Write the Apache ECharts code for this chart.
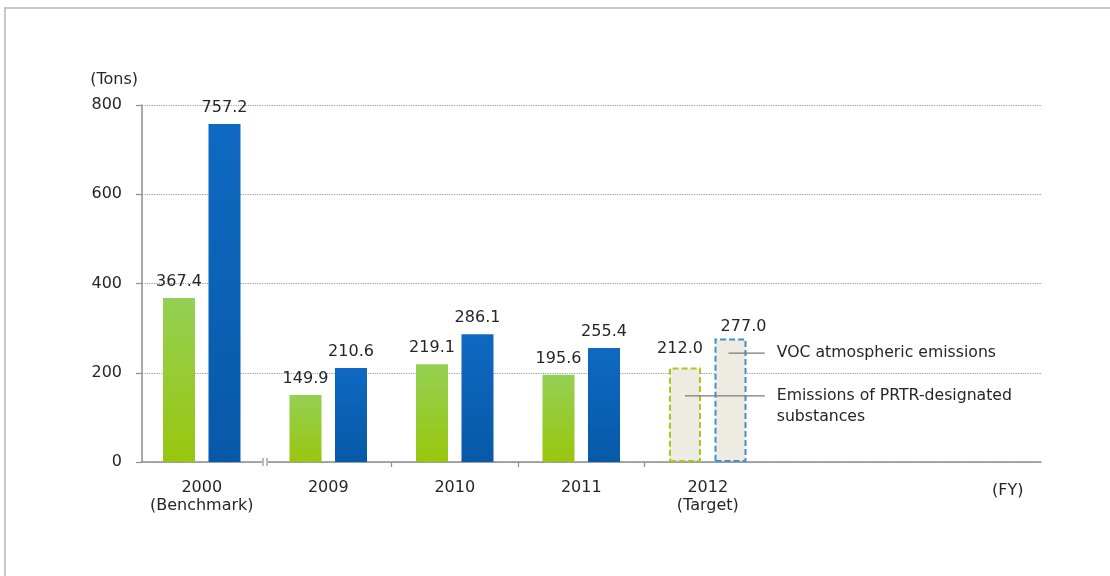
<!DOCTYPE html>
<html><head><meta charset="utf-8">
<script src="https://cdn.jsdelivr.net/npm/echarts@6/dist/echarts.min.js"></script>
<style>html,body{margin:0;padding:0;background:#fff}#c{width:1110px;height:576px}</style>
</head><body><div id="c"></div>
<script>
// ---- data ----
const categories = ['2000\n(Benchmark)', '2009', '2010', '2011', '2012\n(Target)', '', ''];
const prtrValues = [367.4, 149.9, 219.1, 195.6, 212.0];
const vocValues = [757.2, 210.6, 286.1, 255.4, 277.0];
const yTicks = [0, 200, 400, 600, 800];
const seriesNames = ['Emissions of PRTR-designated substances', 'VOC atmospheric emissions'];
const targetIndex = 4;

// ---- style ----
const FONT = 'DejaVu Sans';
const TXT = '#262626';
const AXIS = '#8e8e8e';
const BAR_W = 32, BAR_GAP_PX = 13.5, BAND = 126.5;
const boundaries = categories.concat(['']).map((_, i) => 'b' + i); // band edges for ticks

const chart = echarts.init(document.getElementById('c'), null, {renderer: 'canvas'});

function build(values, dashColor, targetOffset) {
  return values.map((v, i) => i === targetIndex ? {
    value: v,
    itemStyle: {color: '#eeece2', borderColor: dashColor, borderType: [6, 3], borderWidth: 2},
    label: {offset: targetOffset}
  } : v);
}

const greenGrad = new echarts.graphic.LinearGradient(0, 0, 0, 1, [
  {offset: 0, color: '#94d053'}, {offset: 1, color: '#99c60e'}]);
const blueGrad = new echarts.graphic.LinearGradient(0, 0, 0, 1, [
  {offset: 0, color: '#0f69c2'}, {offset: 1, color: '#0759a8'}]);

const labelCommon = {
  show: true, position: 'top', distance: 8,
  fontFamily: FONT, fontSize: 16, color: TXT,
  formatter: p => p.value.toFixed(1)
};

chart.setOption({
  animation: false,
  backgroundColor: '#fff',
  grid: [
    {left: 142, right: 69, top: 105, bottom: 114},
    {left: 138.5, width: categories.length * BAND, top: 105, bottom: 114}
  ],
  xAxis: [
    {type: 'value', gridIndex: 0, min: 0, max: 1, position: 'bottom',
     axisLine: {show: true, lineStyle: {color: AXIS, width: 1.5}},
     axisTick: {show: false}, axisLabel: {show: false}, splitLine: {show: false}},
    {type: 'category', gridIndex: 1, data: categories, position: 'bottom',
     axisLine: {show: false}, axisTick: {show: false},
     axisLabel: {interval: 0, margin: 17, fontFamily: FONT, fontSize: 16, color: TXT, lineHeight: 18}},
    {type: 'category', gridIndex: 1, data: boundaries, boundaryGap: false, position: 'bottom', offset: 0,
     axisLine: {show: false}, axisLabel: {show: false},
     axisTick: {show: true, length: 5, lineStyle: {color: AXIS, width: 1.2},
       interval: (idx) => idx >= 2 && idx <= 4}}
  ],
  yAxis: [
    {type: 'value', gridIndex: 0, min: yTicks[0], max: yTicks[yTicks.length - 1],
     interval: yTicks[1] - yTicks[0],
     name: '(Tons)', nameLocation: 'end', nameGap: 17,
     nameTextStyle: {fontFamily: FONT, fontSize: 16, color: TXT, align: 'right', padding: [0, 4, 0, 0]},
     axisLine: {show: true, lineStyle: {color: AXIS, width: 1.5}},
     axisTick: {show: true, length: 6, lineStyle: {color: AXIS, width: 1.2}},
     axisLabel: {margin: 20, fontFamily: FONT, fontSize: 16, color: TXT},
     splitLine: {show: true, lineStyle: {color: '#9a9a9a', type: [1.2, 1.2], width: 1}}},
    {type: 'value', gridIndex: 1, min: yTicks[0], max: yTicks[yTicks.length - 1],
     interval: yTicks[1] - yTicks[0], show: false, splitLine: {show: false}}
  ],
  title: {text: '(FY)', left: 987, top: 478,
    textStyle: {fontFamily: FONT, fontSize: 16, fontWeight: 'normal', color: TXT}},
  series: [
    {name: seriesNames[0], type: 'bar', xAxisIndex: 1, yAxisIndex: 1,
     barWidth: BAR_W, barGap: (BAR_GAP_PX / BAR_W * 100) + '%',
     itemStyle: {color: greenGrad},
     label: labelCommon,
     data: build(prtrValues, '#a9c81c', [-5, -3])},
    {name: seriesNames[1], type: 'bar', xAxisIndex: 1, yAxisIndex: 1,
     barWidth: BAR_W, barGap: (BAR_GAP_PX / BAR_W * 100) + '%',
     itemStyle: {color: blueGrad},
     label: labelCommon,
     data: build(vocValues, '#3d8fd2', [13, 4])}
  ]
});

// ---- annotations placed through the library's scales ----
const half = (BAR_W + BAR_GAP_PX) / 2;
const toPx = (i, v) => chart.convertToPixel({xAxisIndex: 1, yAxisIndex: 1}, [i, v]);
const pVoc = toPx(targetIndex, 244);
const pPrtr = toPx(targetIndex, 148);
const lineEnd = pVoc[0] + 57, textX = pVoc[0] + 69;
const c0 = toPx(0, 0), c1 = toPx(1, 0);
const bx = (c0[0] + c1[0]) / 2, by = c0[1];
const F = '15.7px "' + FONT + '"';

chart.setOption({
  graphic: [
    {type: 'rect', silent: true, z: -10,
     shape: {x: 5, y: 8, width: 1200, height: 700},
     style: {fill: 'none', stroke: '#c8c8c8', lineWidth: 2}},
    {type: 'line', z: 100, shape: {x1: pVoc[0] + half - 2, y1: pVoc[1], x2: lineEnd, y2: pVoc[1]},
     style: {stroke: '#7a7a7a', lineWidth: 1.2}},
    {type: 'line', z: 100, shape: {x1: pPrtr[0] - half, y1: pPrtr[1], x2: lineEnd, y2: pPrtr[1]},
     style: {stroke: '#7a7a7a', lineWidth: 1.2}},
    {type: 'text', z: 100, x: textX, y: pVoc[1],
     style: {text: seriesNames[1], font: F, fill: TXT, verticalAlign: 'middle'}},
    {type: 'text', z: 100, x: textX, y: pPrtr[1] - 10.5,
     style: {text: 'Emissions of PRTR-designated\nsubstances', font: F,
       fill: TXT, verticalAlign: 'top', lineHeight: 21}},
    {type: 'rect', z: 99, shape: {x: bx - 3, y: by - 4, width: 6, height: 8}, style: {fill: '#fff'}},
    {type: 'line', z: 100, shape: {x1: bx - 2, y1: by - 4, x2: bx - 2, y2: by + 4}, style: {stroke: AXIS, lineWidth: 1.2}},
    {type: 'line', z: 100, shape: {x1: bx + 2, y1: by - 4, x2: bx + 2, y2: by + 4}, style: {stroke: AXIS, lineWidth: 1.2}}
  ]
});
</script></body></html>
